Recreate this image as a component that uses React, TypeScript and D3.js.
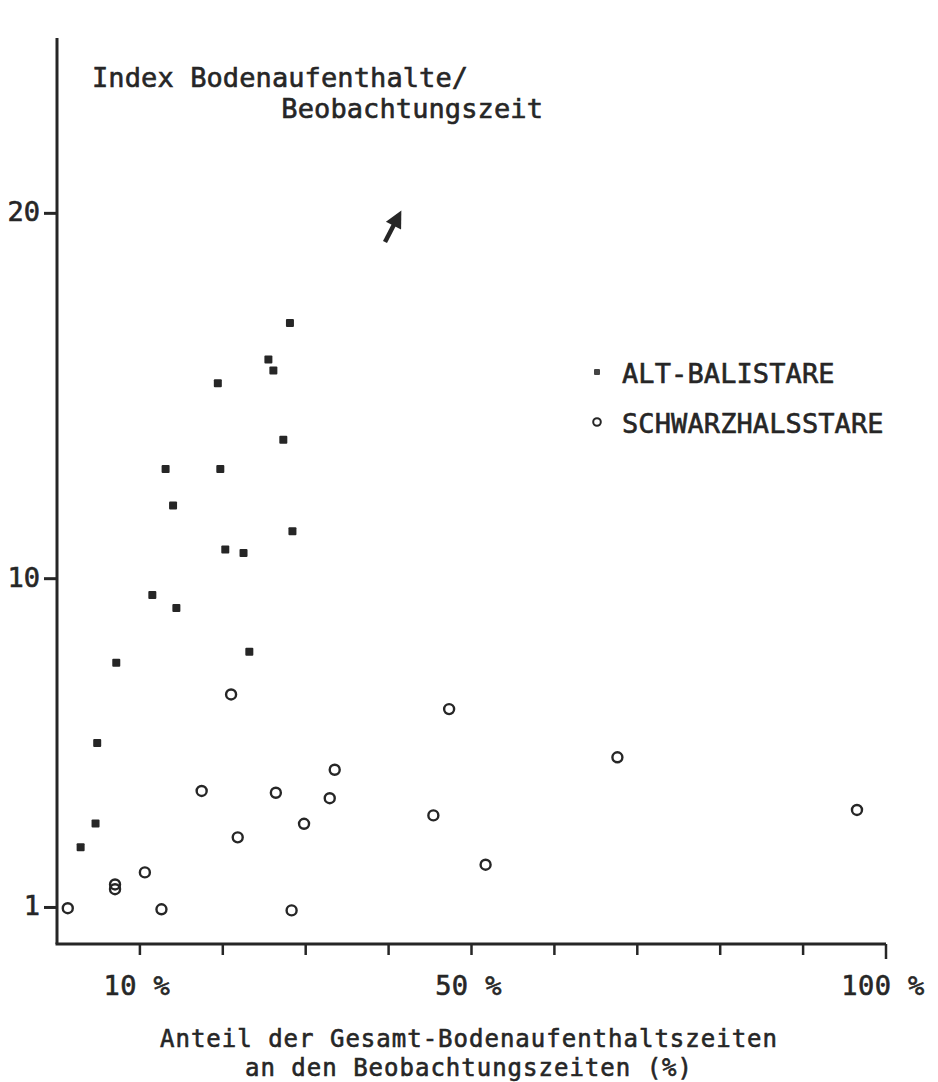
import React from "react";
import * as d3 from "d3";

const altBalistareX = [28.1, 25.5, 26.1, 19.4, 27.3, 13.1, 19.7, 14.0, 28.4, 20.3, 22.5, 11.5, 14.4, 23.2, 7.15, 4.85, 4.65, 2.85];
const altBalistareY = [17.0, 16.0, 15.7, 15.35, 13.8, 13.0, 13.0, 12.0, 11.3, 10.8, 10.7, 9.55, 9.2, 8.0, 7.7, 5.5, 3.3, 2.65];

const schwarzhalsX = [1.3, 7.0, 7.0, 10.6, 12.6, 17.45, 21.0, 21.8, 26.4, 28.3, 29.8, 32.9, 33.5, 47.3, 45.4, 51.7, 67.6, 96.5];
const schwarzhalsY = [0.98, 1.63, 1.5, 1.96, 0.95, 4.19, 6.83, 2.92, 4.14, 0.92, 3.29, 3.99, 4.77, 6.43, 3.52, 2.17, 5.11, 3.67];

const xTicks = [10, 20, 30, 40, 50, 60, 70, 80, 90, 100];
const xTickLabels = [
  { v: 10, label: "10 %" },
  { v: 50, label: "50 %" },
  { v: 100, label: "100 %" },
];
const yTicks = [1, 10, 20];

const legendLabels = ["ALT-BALISTARE", "SCHWARZHALSSTARE"];
const yTitle = ["Index Bodenaufenthalte/", "Beobachtungszeit"];
const xTitle = ["Anteil der Gesamt-Bodenaufenthaltszeiten", "an den Beobachtungszeiten (%)"];

const W = 938;
const H = 1082;
const INK = "#262626";
const FONT = "'DejaVu Sans Mono', monospace";

export default function App() {
  const x = d3.scaleLinear().domain([0, 100]).range([57, 886]);
  const y = d3.scaleLinear().domain([0, 24.8]).range([944, 38]);

  const squares = altBalistareX.map((v, i) => ({ x: v, y: altBalistareY[i] }));
  const circles = schwarzhalsX.map((v, i) => ({ x: v, y: schwarzhalsY[i] }));

  const textStyle = { fontFamily: FONT, fill: INK, stroke: INK, strokeWidth: 0.6 } as const;

  return (
    <svg
      width={W}
      height={H}
      viewBox={`0 0 ${W} ${H}`}
      style={{ position: "absolute", left: 0, top: 0, background: "#fff", display: "block" }}
    >
      <rect x={0} y={0} width={W} height={H} fill="#fff" />
      <defs>
        <marker id="arrowhead" viewBox="0 0 10 10" refX="7" refY="5" markerWidth="4.6" markerHeight="3.8" orient="auto">
          <path d="M0,0 L10,5 L0,10 z" fill={INK} />
        </marker>
      </defs>

      {/* axes */}
      <line x1={x(0)} x2={x(0)} y1={y(24.8)} y2={y(0)} stroke={INK} strokeWidth={3} />
      <line x1={x(0) - 1.5} x2={x(100)} y1={y(0)} y2={y(0)} stroke={INK} strokeWidth={3} />

      {xTicks.map((t) => (
        <line key={t} x1={x(t)} x2={x(t)} y1={y(0)} y2={y(0) + (t === 100 ? 15 : 11)} stroke={INK} strokeWidth={2.5} />
      ))}
      {xTickLabels.map((t) => (
        <text key={t.v} x={x(t.v) - 3} y={995} textAnchor="middle" fontSize={27} letterSpacing={0.4} style={textStyle}>
          {t.label}
        </text>
      ))}

      {yTicks.map((t) => (
        <g key={t}>
          <line x1={x(0) - 13} x2={x(0)} y1={y(t)} y2={y(t)} stroke={INK} strokeWidth={3} />
          <text x={40} y={y(t) + 8} textAnchor="end" fontSize={27} style={textStyle}>
            {t}
          </text>
        </g>
      ))}

      {/* y title */}
      <text x={92} y={87} fontSize={27} letterSpacing={0.1} style={textStyle}>
        {yTitle[0]}
      </text>
      <text x={543} y={118} textAnchor="end" fontSize={27} letterSpacing={0.1} style={textStyle}>
        {yTitle[1]}
      </text>

      {/* arrow */}
      <line x1={385} y1={242} x2={399} y2={215} stroke={INK} strokeWidth={4.5} markerEnd="url(#arrowhead)" />

      {/* data */}
      {squares.map((d, i) => (
        <rect key={`s${i}`} x={x(d.x) - 4} y={y(d.y) - 4} width={8} height={8} rx={1} fill={INK} />
      ))}
      {circles.map((d, i) => (
        <circle key={`c${i}`} cx={x(d.x)} cy={y(d.y)} r={5} fill="none" stroke={INK} strokeWidth={2.4} />
      ))}

      {/* legend */}
      <rect x={594} y={369} width={6} height={6} rx={1} fill="#444" />
      <text x={622} y={383} fontSize={27} letterSpacing={0.1} style={textStyle}>
        {legendLabels[0]}
      </text>
      <circle cx={597} cy={422} r={3.8} fill="none" stroke={INK} strokeWidth={2} />
      <text x={622} y={433} fontSize={27} letterSpacing={0.1} style={textStyle}>
        {legendLabels[1]}
      </text>

      {/* x title */}
      <text x={469} y={1047} textAnchor="middle" fontSize={24} letterSpacing={1} style={textStyle}>
        {xTitle[0]}
      </text>
      <text x={469} y={1076} textAnchor="middle" fontSize={24} letterSpacing={1} style={textStyle}>
        {xTitle[1]}
      </text>
    </svg>
  );
}
